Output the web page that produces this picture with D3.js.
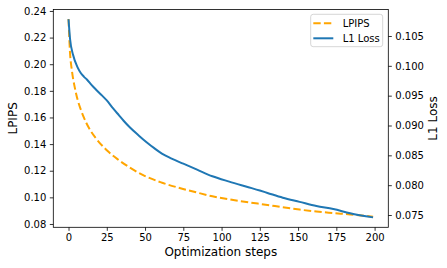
<!DOCTYPE html>
<html><head><meta charset="utf-8">
<script src="https://cdn.jsdelivr.net/npm/d3@7"></script>
<style>body{margin:0;background:#fff}svg{display:block}text{font-family:"DejaVu Sans",sans-serif;fill:#000}</style>
</head><body><svg id="c" width="447" height="268"></svg>
<script>
const lpipsSteps = [0,1,2,3,4,6,8,10,14,18,25,32,40,50,60,72,84,94,105,118,130,140,151,162,173,184,199];
const lpipsVals  = [0.234,0.208,0.197,0.189,0.183,0.173,0.166,0.160,0.1508,0.1442,0.1354,0.1287,0.1224,0.1160,0.1114,0.1072,0.1036,0.1008,0.0985,0.0962,0.0943,0.0925,0.0908,0.0893,0.0882,0.0872,0.0855];
const l1Steps = [0,1,3,6,8,10,12,15,18,22,25,29,33,36,40,46,51,56,61,67,75,84,94,105,117,125,130,140,151,162,173,184,199];
const l1Vals  = [0.1078,0.1045,0.1018,0.0997,0.0988,0.0982,0.0977,0.0968,0.0960,0.0950,0.0942,0.0929,0.0917,0.0908,0.0897,0.0883,0.0872,0.0862,0.0853,0.0845,0.0836,0.0826,0.0815,0.0806,0.0797,0.0791,0.0787,0.0779,0.0772,0.0765,0.0760,0.0753,0.0746];
const xTicks = [0,25,50,75,100,125,150,175,200];
const yLeftTicks = [0.08,0.10,0.12,0.14,0.16,0.18,0.20,0.22,0.24];
const yRightTicks = [0.075,0.080,0.085,0.090,0.095,0.100,0.105];
const seriesNames = ["LPIPS","L1 Loss"];
const colors = ["#ffa500","#1f77b4"];

const L=53.3,R=388.3,T=9.5,B=227.3;
const svg=d3.select("#c");
const x=d3.scaleLinear().domain([-9.95,208.95]).range([L,R]);
const yL=d3.scaleLinear().domain([0.0775,0.2411]).range([B,T]);
const yR=d3.scaleLinear().domain([0.07294,0.10944]).range([B,T]);

function styleAxis(g){
  g.select(".domain").remove();
  g.selectAll(".tick line").attr("stroke","#000").attr("stroke-width",0.8);
  g.selectAll(".tick text").attr("font-size",10).attr("font-family","DejaVu Sans").attr("fill","#000");
}
svg.append("g").attr("transform",`translate(0,${B})`)
  .call(d3.axisBottom(x).tickValues(xTicks).tickFormat(d3.format("d")).tickSize(3.5).tickPadding(3.5)).call(styleAxis);
svg.append("g").attr("transform",`translate(${L},0)`)
  .call(d3.axisLeft(yL).tickValues(yLeftTicks).tickFormat(d3.format(".2f")).tickSize(3.5).tickPadding(3.5)).call(styleAxis);
svg.append("g").attr("transform",`translate(${R},0)`)
  .call(d3.axisRight(yR).tickValues(yRightTicks).tickFormat(d3.format(".3f")).tickSize(3.5).tickPadding(3.5)).call(styleAxis);

svg.append("defs").append("clipPath").attr("id","pc").append("rect").attr("x",L).attr("y",T).attr("width",R-L).attr("height",B-T);
const gl=svg.append("g").attr("clip-path","url(#pc)");
const lp=lpipsSteps.map((s,i)=>[s,lpipsVals[i]]);
const l1=l1Steps.map((s,i)=>[s,l1Vals[i]]);
gl.append("path").attr("d",d3.line().x(d=>x(d[0])).y(d=>yL(d[1])).curve(d3.curveMonotoneX)(lp))
  .attr("fill","none").attr("stroke",colors[0]).attr("stroke-width",2).attr("stroke-dasharray","7.4,3.2");
gl.append("path").attr("d",d3.line().x(d=>x(d[0])).y(d=>yR(d[1])).curve(d3.curveMonotoneX)(l1))
  .attr("fill","none").attr("stroke",colors[1]).attr("stroke-width",2);

svg.append("rect").attr("x",L).attr("y",T).attr("width",R-L).attr("height",B-T)
  .attr("fill","none").attr("stroke","#000").attr("stroke-width",0.8);

svg.append("text").attr("x",(L+R)/2).attr("y",256).attr("text-anchor","middle").attr("font-size",12).text("Optimization steps");
svg.append("text").attr("transform",`translate(17.3,${(T+B)/2}) rotate(-90)`).attr("text-anchor","middle").attr("font-size",12).text("LPIPS");
svg.append("text").attr("transform",`translate(437,${(T+B)/2}) rotate(-90)`).attr("text-anchor","middle").attr("font-size",12).text("L1 Loss");

const lg=svg.append("g");
lg.append("rect").attr("x",310.7).attr("y",14.3).attr("width",72).attr("height",32.4).attr("rx",2.5)
  .attr("fill","#fff").attr("fill-opacity",0.8).attr("stroke","#cccccc").attr("stroke-width",0.8);
seriesNames.forEach((n,i)=>{
  const yy=23.3+i*15;
  lg.append("line").attr("x1",313.3).attr("x2",333.3).attr("y1",yy).attr("y2",yy)
    .attr("stroke",colors[i]).attr("stroke-width",2).attr("stroke-dasharray",i===0?"7.4,3.2":null);
  lg.append("text").attr("x",342.7).attr("y",yy).attr("dy","0.35em").attr("font-size",10).text(n);
});
</script></body></html>
